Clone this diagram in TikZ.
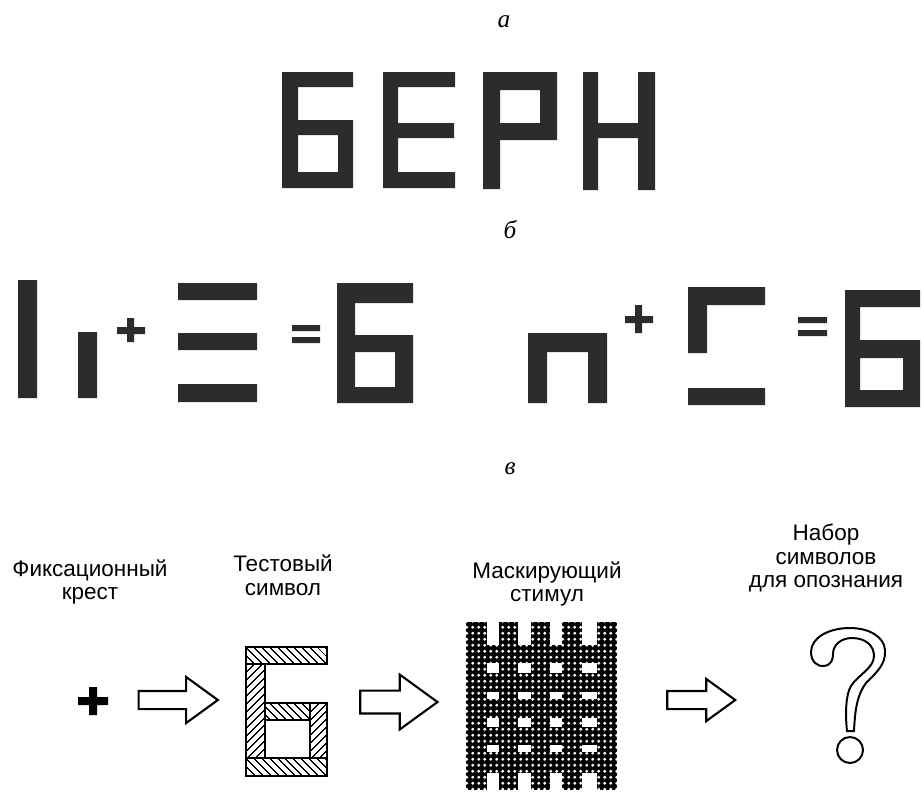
\documentclass[tikz,border=0pt]{standalone}
\usepackage{fontspec}
\setmainfont{Liberation Serif}
\newfontfamily\capfont{Liberation Sans}
\usetikzlibrary{patterns,patterns.meta,shapes.arrows}

\definecolor{ink}{HTML}{2C2C2C}

\pgfdeclarepatternformonly{meshdots}{\pgfpointorigin}{\pgfqpoint{4.4pt}{4.4pt}}{\pgfqpoint{4.4pt}{4.4pt}}{%
	\pgfpathcircle{\pgfqpoint{2.2pt}{2.2pt}}{1.25pt}\pgfusepath{fill}}

\tikzset{
	panel/.style={font=\itshape\fontsize{18}{20}\selectfont, inner sep=0pt, anchor=base},
	caption/.style={font=\capfont\fontsize{16}{17}\selectfont, align=center, inner sep=0pt},
	blockarrow/.style={single arrow, draw, line width=1.5pt, fill=white, inner xsep=0pt, single arrow tip angle=72},
	hatchA/.style={draw, line width=1.2pt, pattern={Lines[angle=-45,distance=4pt,line width=.8pt]}},
	hatchB/.style={draw, line width=1.2pt, pattern={Lines[angle=45,distance=4pt,line width=.8pt]}}
}

\begin{document}
\begin{tikzpicture}[x=0.025cm, y=-0.025cm]
	\useasboundingbox (0,0) rectangle (924,791);
	\node[panel] (lblA) at (504,27) {а};
	\node[panel] (lblB) at (510,238) {б};
	\node[panel] (lblC) at (510,474) {в};
	\fill[ink, even odd rule] (282,72) -- (353,72) -- (353,87) -- (298,87) -- (298,120) -- (353,120) -- (353,188) -- (282,188) -- cycle (298,135) rectangle (338,172);
	\fill[ink] (383,72) rectangle (398,188) (383,72) rectangle (455,87) (383,123) rectangle (454,138) (383,172) rectangle (455,188);
	\fill[ink] (483,72) rectangle (500,189) (483,72) rectangle (557,90) (540,72) rectangle (557,140) (483,123) rectangle (557,140);
	\fill[ink] (583,72) rectangle (598,190) (638,72) rectangle (655,190) (583,123) rectangle (655,138);
	\fill[ink] (18,280) rectangle (37,398) (78,332) rectangle (97,398);
	\fill[ink] (117,327) rectangle (145,334) (127,318) rectangle (134,342);
	\fill[ink] (178,283) rectangle (257,300) (178,333) rectangle (257,350) (178,384) rectangle (257,402);
	\fill[ink] (292,325) rectangle (320,331) (292,337) rectangle (320,343);
	\fill[ink] (337,283) rectangle (413,303) (337,283) rectangle (355,403) (337,335) rectangle (413,352) (395,335) rectangle (413,403) (337,387) rectangle (413,403);
	\fill[ink] (528,333) rectangle (607,352) (528,333) rectangle (547,403) (588,333) rectangle (607,403);
	\fill[ink] (625,316) rectangle (653,323) (635,305) rectangle (642,333);
	\fill[ink] (688,287) rectangle (765,305) (688,287) rectangle (707,353) (688,388) rectangle (765,405);
	\fill[ink] (798,317) rectangle (827,323) (798,330) rectangle (827,336);
	\fill[ink] (845,290) rectangle (920,307) (845,290) rectangle (860,407) (845,340) rectangle (920,358) (903,340) rectangle (920,407) (845,390) rectangle (920,407);
	\node[caption] (capFix) at (90,582) {Фиксационный\\крест};
	\node[caption] (capTest) at (283,575) {Тестовый\\символ};
	\node[caption] (capMask) at (547,584) {Маскирующий\\стимул};
	\node[caption] (capSet) at (826,558) {Набор\\символов\\для опознания};
	\fill (78,697) rectangle (108,705) (89,687) rectangle (97,715);
	\node[blockarrow, minimum height=1.98cm, inner ysep=0.2cm, single arrow head extend=0.35cm] (arrFix) at (172,700) {};
	\draw[hatchA] (246,647) rectangle (327,664);
	\draw[hatchB] (246,664) rectangle (265,758);
	\draw[hatchA] (265,703) rectangle (310,720);
	\draw[hatchB] (310,703) rectangle (327,758);
	\draw[hatchA] (246,758) rectangle (327,776);
	\node[blockarrow, minimum height=1.93cm, inner ysep=0.26cm, single arrow head extend=0.4cm] (arrTest) at (391,702) {};
	\fill (466,622) rectangle (617,790);
	\fill[pattern=meshdots, pattern color=white] (466,622) rectangle (617,790);
	\foreach \xa/\xb in {487/499, 518/531, 550/562, 582/597}
		\foreach \ya/\yb in {621/645, 663/673, 692/699, 718/727, 745/752, 773/791}
			\fill[white] (\xa,\ya) rectangle (\xb,\yb);
	\node[blockarrow, minimum height=1.7cm, inner ysep=0.2cm, single arrow head extend=0.3cm] (arrMask) at (695,700) {};
	\filldraw[fill=white, line width=1.4pt] (847,731) -- (854,731)
		.. controls (855,710) and (857,695) .. (866,683)
		.. controls (877,672) and (886,664) .. (885,650)
		.. controls (884,636) and (868,628) .. (850,628)
		.. controls (828,628) and (811,638) .. (811,652)
		.. controls (811,662) and (818,667) .. (824,666)
		.. controls (831,665) and (833,660) .. (833,654)
		.. controls (833,644) and (842,638) .. (852,638)
		.. controls (866,638) and (874,646) .. (874,656)
		.. controls (874,668) and (858,675) .. (851,686)
		.. controls (846,694) and (845,712) .. (847,731) -- cycle;
	\draw[line width=1.4pt] (850,750) circle (13);
\end{tikzpicture}
\end{document}
